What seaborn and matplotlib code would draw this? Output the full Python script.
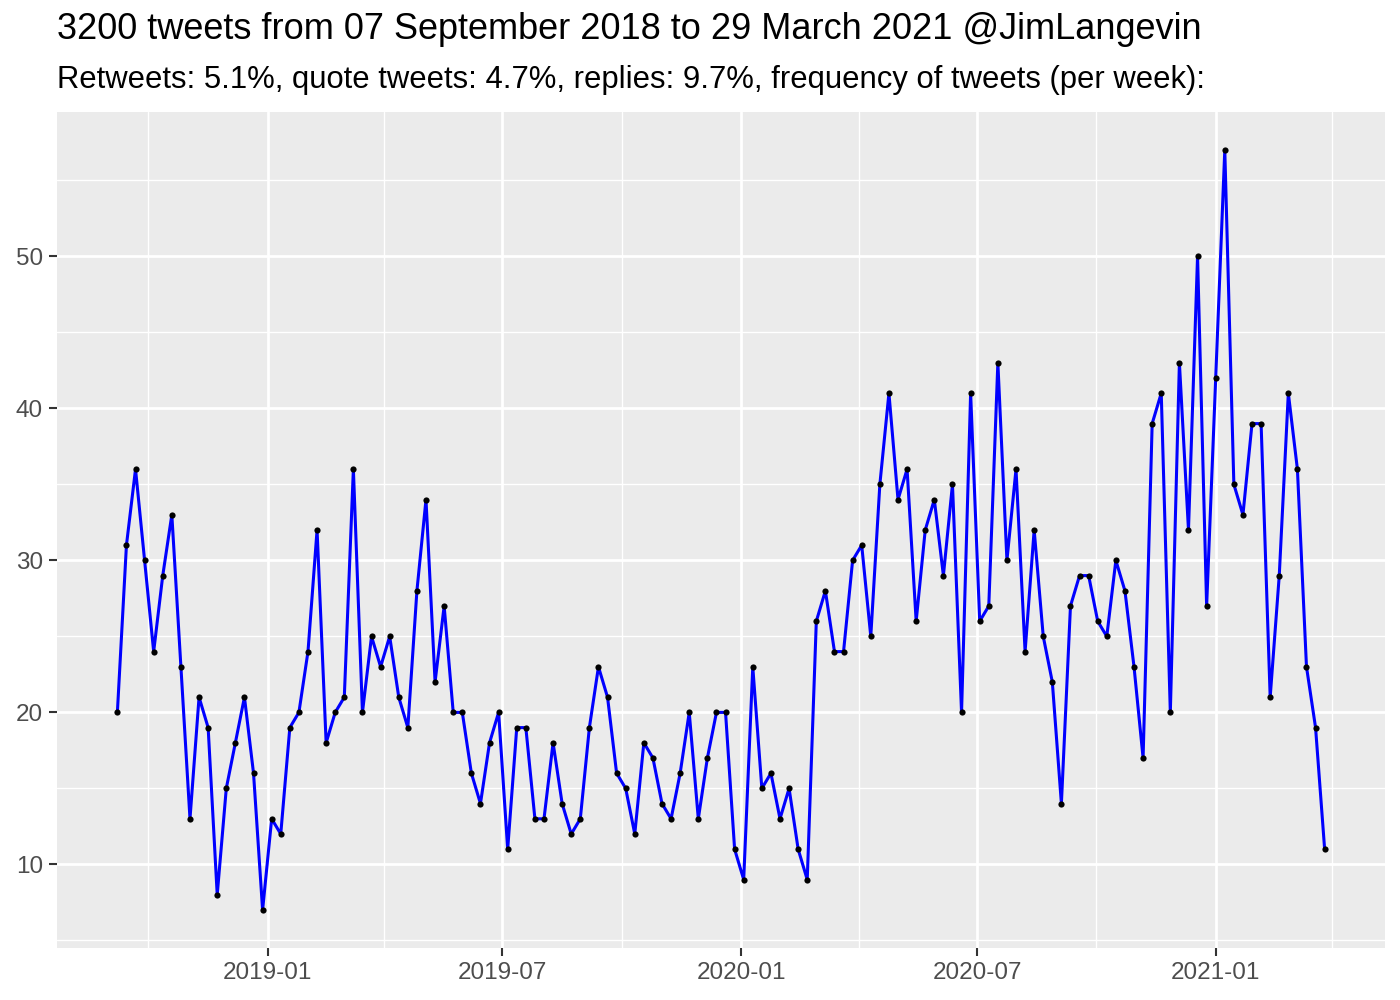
import pandas as pd
import numpy as np
import seaborn as sns
import matplotlib.pyplot as plt
import matplotlib.dates as mdates
from matplotlib.ticker import MultipleLocator

# ---- data: weekly tweet counts ----
first_week = "2018-09-07"
tweets_per_week = [
    20, 31, 36, 30, 24, 29, 33, 23, 13, 21,
    19, 8, 15, 18, 21, 16, 7, 13, 12, 19,
    20, 24, 32, 18, 20, 21, 36, 20, 25, 23,
    25, 21, 19, 28, 34, 22, 27, 20, 20, 16,
    14, 18, 20, 11, 19, 19, 13, 13, 18, 14,
    12, 13, 19, 23, 21, 16, 15, 12, 18, 17,
    14, 13, 16, 20, 13, 17, 20, 20, 11, 9,
    23, 15, 16, 13, 15, 11, 9, 26, 28, 24,
    24, 30, 31, 25, 35, 41, 34, 36, 26, 32,
    34, 29, 35, 20, 41, 26, 27, 43, 30, 36,
    24, 32, 25, 22, 14, 27, 29, 29, 26, 25,
    30, 28, 23, 17, 39, 41, 20, 43, 32, 50,
    27, 42, 57, 35, 33, 39, 39, 21, 29, 41,
    36, 23, 19, 11,
]
title = "3200 tweets from 07 September 2018 to 29 March 2021 @JimLangevin"
subtitle = ("Retweets: 5.1%, quote tweets: 4.7%, replies: 9.7%, "
            "frequency of tweets (per week):")

df = pd.DataFrame({
    "week": pd.date_range(first_week, periods=len(tweets_per_week), freq="7D"),
    "n": tweets_per_week,
})

# ---- ggplot-ish theme ----
sns.set_theme(style="darkgrid", rc={
    "axes.facecolor": "#EBEBEB",
    "grid.color": "white",
    "axes.edgecolor": "#EBEBEB",
})
plt.rcParams["font.family"] = ["Liberation Sans", "DejaVu Sans"]

fig = plt.figure(figsize=(14, 10), dpi=100)
ax = fig.add_axes([57 / 1400, 52 / 1000, 1328 / 1400, 836 / 1000])

sns.lineplot(data=df, x="week", y="n", color="blue", linewidth=2.2, ax=ax, zorder=3)
sns.scatterplot(data=df, x="week", y="n", color="black", s=20, linewidth=0, ax=ax, zorder=4)

# expand limits by 5% like ggplot
x0, x1 = mdates.date2num(df["week"].min()), mdates.date2num(df["week"].max())
pad = (x1 - x0) * 0.05
ax.set_xlim(x0 - pad, x1 + pad)
y0, y1 = min(tweets_per_week), max(tweets_per_week)
ax.set_ylim(y0 - (y1 - y0) * 0.05, y1 + (y1 - y0) * 0.05)

ax.xaxis.set_major_locator(mdates.MonthLocator(bymonth=[1, 7]))
ax.xaxis.set_minor_locator(mdates.MonthLocator(bymonth=[4, 10]))
ax.xaxis.set_major_formatter(mdates.DateFormatter("%Y-%m"))
ax.yaxis.set_major_locator(MultipleLocator(10))
ax.yaxis.set_minor_locator(MultipleLocator(5))

ax.grid(which="major", color="white", linewidth=2.0)
ax.grid(which="minor", color="white", linewidth=1.0)
for s in ax.spines.values():
    s.set_visible(False)

ax.tick_params(axis="both", which="major", length=6, width=1.5, color="#333333",
               labelsize=17.5, labelcolor="#4D4D4D", pad=4, bottom=True, left=True)
ax.tick_params(axis="both", which="minor", length=0)
ax.set_xlabel("")
ax.set_ylabel("")

fig.text(57 / 1400, 1 - 39 / 1000, title, fontsize=26, color="black", va="baseline")
fig.text(57 / 1400, 1 - 88 / 1000, subtitle, fontsize=22.3, color="black", va="baseline")

fig.savefig("out.png", dpi=100)
